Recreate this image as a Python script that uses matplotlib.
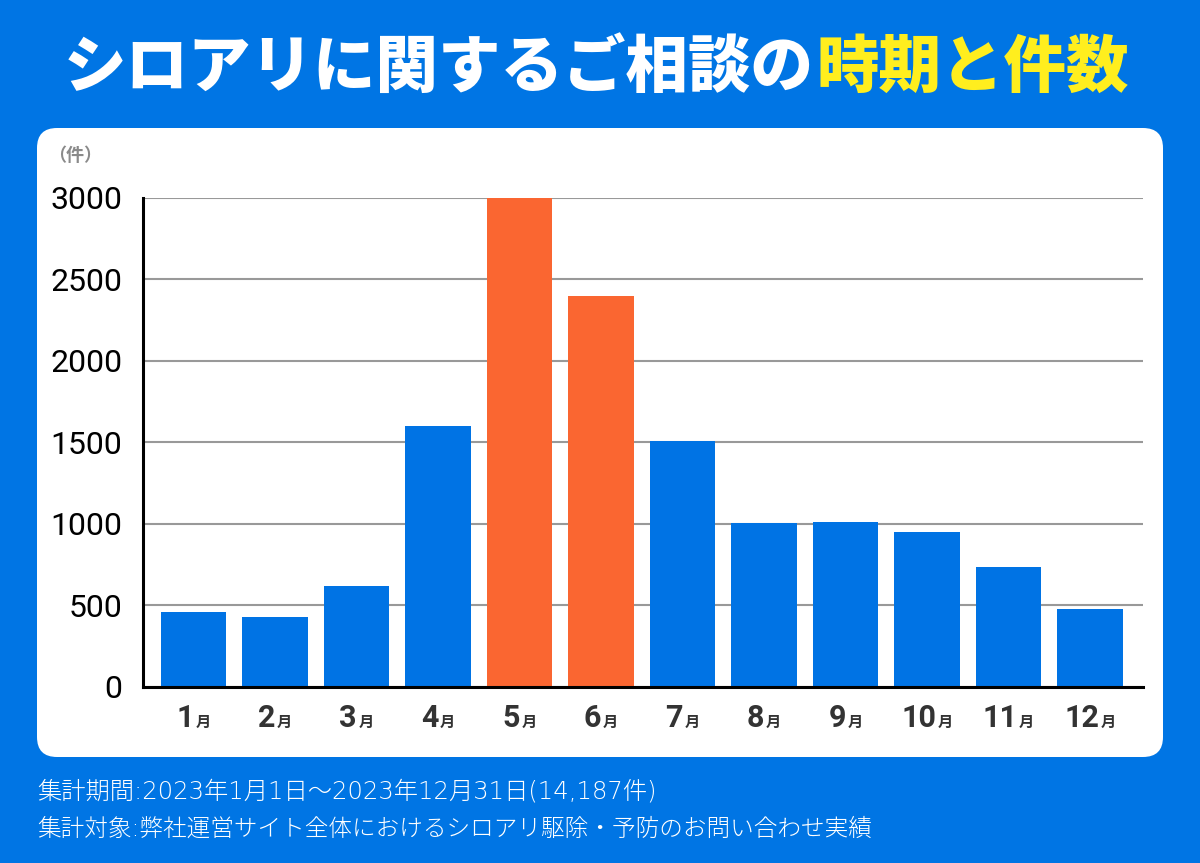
import matplotlib
matplotlib.use('Agg')
import matplotlib.pyplot as plt
from matplotlib.patches import FancyBboxPatch
from matplotlib.offsetbox import TextArea, HPacker, AnnotationBbox

plt.rcParams['font.family'] = ['Noto Sans CJK JP', 'DejaVu Sans']

# data
months = ['1', '2', '3', '4', '5', '6', '7', '8', '9', '10', '11', '12']
counts = [460, 430, 620, 1600, 3000, 2400, 1510, 1005, 1010, 950, 735, 480]
peak_months = ['5', '6']
yticks = [0, 500, 1000, 1500, 2000, 2500, 3000]

title_white = 'シロアリに関するご相談の'
title_yellow = '時期と件数'
footer_1 = '集計期間:2023年1月1日～2023年12月31日(14,187件)'
footer_2 = '集計対象:弊社運営サイト全体におけるシロアリ駆除・予防のお問い合わせ実績'

BG = '#0075E4'
BAR_BLUE = '#0073E4'
BAR_ORANGE = '#FA6631'
YELLOW = '#FFEE1E'

fig = plt.figure(figsize=(12, 8.63), dpi=100)
fig.patch.set_facecolor(BG)

# white rounded panel (inches)
panel = FancyBboxPatch((0.37, 1.06), 11.26, 6.29,
                       boxstyle='round,pad=0,rounding_size=0.2',
                       transform=fig.dpi_scale_trans,
                       facecolor='white', edgecolor='none', zorder=-1)
fig.patches.append(panel)

ax = fig.add_axes([0.1192, 0.2040, 0.8333, 0.5666])
ax.set_facecolor('none')

x = list(range(len(months)))
colors = [BAR_ORANGE if m in peak_months else BAR_BLUE for m in months]
ax.bar(x, counts, width=0.8, color=colors, zorder=3, clip_on=False)

ax.set_xlim(-0.62, 11.65)
ax.set_ylim(0, 3000)
ax.set_yticks(yticks)
ax.set_yticklabels([str(v) for v in yticks], family='Roboto', fontsize=23, color='black')
ax.tick_params(axis='y', length=0, pad=15)
ax.set_xticks([])
ax.grid(axis='y', color='#999999', linewidth=1.5, zorder=1)
for side in ['top', 'right']:
    ax.spines[side].set_visible(False)
for side in ['left', 'bottom']:
    ax.spines[side].set_linewidth(2.2)
    ax.spines[side].set_color('black')
    ax.spines[side].set_zorder(4)

# month labels: big digit + small 月
for i, m in enumerate(months):
    num = TextArea(m, textprops=dict(family='Roboto', fontweight='bold',
                                     fontsize=22, color='#333333'))
    unit = TextArea('月', textprops=dict(family='Noto Sans CJK JP', fontweight='bold',
                                        fontsize=11, color='#333333'))
    box = HPacker(children=[num, unit], align='baseline', pad=0, sep=1)
    ab = AnnotationBbox(box, (i, -0.064), xycoords=ax.get_xaxis_transform(),
                        frameon=False, pad=0, box_alignment=(0.5, 0.5),
                        annotation_clip=False)
    ax.add_artist(ab)

# unit label
fig.text(0.040, 0.820, '（件）', fontsize=13, color='#8a8a8a', ha='left', va='center',
         fontweight='bold')

# title
t1 = TextArea(title_white, textprops=dict(fontsize=45, fontweight='heavy', color='white'))
t2 = TextArea(title_yellow, textprops=dict(fontsize=45, fontweight='heavy', color=YELLOW))
tbox = HPacker(children=[t1, t2], align='baseline', pad=0, sep=2)
fig.add_artist(AnnotationBbox(tbox, (0.497, 0.921), xycoords='figure fraction',
                              frameon=False, pad=0, box_alignment=(0.5, 0.5)))

# footer
foot_fam = ['DejaVu Sans', 'Noto Sans CJK JP']
fig.text(0.031, 0.0834, footer_1, fontsize=17.5, color='white', ha='left', va='center',
         family=foot_fam, fontweight='light')
fig.text(0.031, 0.0394, footer_2, fontsize=17, color='white', ha='left', va='center',
         family=foot_fam, fontweight='light')

fig.savefig('out.png', dpi=100, facecolor=BG)
